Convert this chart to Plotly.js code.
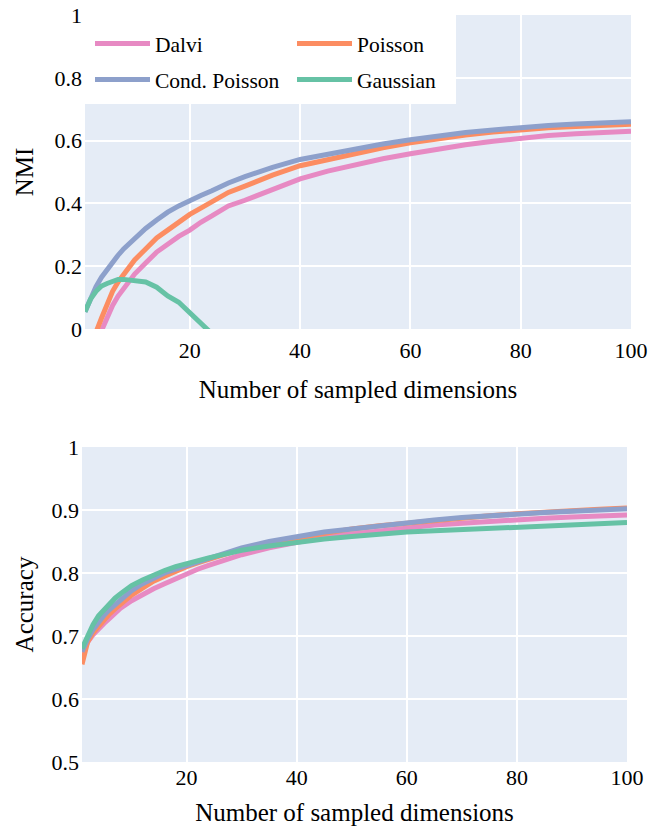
<!DOCTYPE html>
<html>
<head>
<meta charset="utf-8">
<script src="https://cdn.plot.ly/plotly-3.0.1.min.js"></script>
<style>html,body{margin:0;padding:0;background:#fff}#chart{width:661px;height:834px}</style>
</head>
<body>
<div id="chart"></div>
<script>
const dims = [1,2,3,4,5,6,7,8,10,12,14,16,18,20,22,24,27,30,35,40,45,50,55,60,65,70,75,80,85,90,95,100];

const seriesNames = ["Dalvi", "Poisson", "Cond. Poisson", "Gaussian"];
const seriesColors = ["#e78ac3", "#fc8d62", "#8da0cb", "#66c2a5"];
const legendRow = ["legend", "legend", "legend2", "legend2"];

// NMI (top panel)
const nmiDalvi = [-0.15,-0.1,-0.05,-0.005,0.035,0.075,0.105,0.13,0.175,0.21,0.245,0.27,0.295,0.315,0.34,0.36,0.392,0.41,0.445,0.478,0.503,0.523,0.542,0.558,0.573,0.587,0.598,0.608,0.616,0.622,0.627,0.63];
const nmiPoisson = [-0.12,-0.06,-0.01,0.035,0.08,0.12,0.15,0.175,0.22,0.255,0.29,0.315,0.34,0.365,0.385,0.405,0.435,0.455,0.49,0.52,0.54,0.56,0.577,0.593,0.606,0.618,0.627,0.635,0.641,0.645,0.649,0.652];
const nmiCondPoisson = [0.055,0.1,0.135,0.165,0.19,0.215,0.235,0.255,0.29,0.32,0.347,0.372,0.392,0.41,0.425,0.44,0.465,0.485,0.515,0.54,0.557,0.573,0.589,0.603,0.615,0.626,0.634,0.642,0.648,0.653,0.657,0.66];
const nmiGaussian = [0.055,0.095,0.12,0.137,0.145,0.152,0.158,0.158,0.155,0.15,0.133,0.105,0.085,0.05,0.02,-0.015,-0.06,-0.1,null,null,null,null,null,null,null,null,null,null,null,null,null,null];

// Accuracy (bottom panel)
const accDalvi = [0.672,0.69,0.702,0.712,0.72,0.728,0.737,0.744,0.756,0.766,0.775,0.783,0.791,0.799,0.806,0.812,0.821,0.829,0.84,0.849,0.857,0.862,0.867,0.872,0.876,0.879,0.882,0.884,0.887,0.889,0.891,0.892];
const accPoisson = [0.655,0.69,0.705,0.716,0.726,0.735,0.743,0.75,0.765,0.776,0.787,0.795,0.803,0.81,0.816,0.822,0.83,0.838,0.848,0.856,0.864,0.87,0.875,0.879,0.884,0.888,0.891,0.894,0.897,0.899,0.901,0.903];
const accCondPoisson = [0.675,0.695,0.71,0.722,0.733,0.742,0.75,0.757,0.772,0.783,0.792,0.8,0.806,0.812,0.818,0.824,0.832,0.84,0.85,0.858,0.865,0.87,0.875,0.879,0.884,0.888,0.891,0.893,0.896,0.898,0.9,0.902];
const accGaussian = [0.68,0.7,0.718,0.732,0.742,0.752,0.76,0.767,0.78,0.789,0.797,0.804,0.81,0.815,0.82,0.824,0.83,0.836,0.843,0.849,0.854,0.858,0.862,0.865,0.867,0.869,0.871,0.873,0.875,0.877,0.878,0.88];

const xTickVals = [20,40,60,80,100];
const nmiTickVals = [0,0.2,0.4,0.6,0.8,1];
const nmiTickText = ["0","0.2","0.4","0.6","0.8","1"];
const accTickVals = [0.5,0.6,0.7,0.8,0.9,1];
const accTickText = ["0.5","0.6","0.7","0.8","0.9","1"];

const nmiData = [nmiDalvi, nmiPoisson, nmiCondPoisson, nmiGaussian];
const accData = [accDalvi, accPoisson, accCondPoisson, accGaussian];

const traces = [];
seriesNames.forEach((n, i) => {
  traces.push({x: dims, y: nmiData[i], name: n, type: 'scatter', mode: 'lines',
    line: {color: seriesColors[i], width: 5}, xaxis: 'x', yaxis: 'y', legendgroup: n, legend: legendRow[i]});
});
seriesNames.forEach((n, i) => {
  traces.push({x: dims, y: accData[i], name: n, type: 'scatter', mode: 'lines',
    line: {color: seriesColors[i], width: 5}, xaxis: 'x2', yaxis: 'y2', legendgroup: n, showlegend: false});
});

const W = 661, H = 834;
const fam = 'Liberation Serif, Times New Roman, serif';
const font = {family: fam, color: '#000'};
const axBase = {showline: false, zeroline: false, gridcolor: '#fff', gridwidth: 2, ticks: '', automargin: false,
  tickfont: {family: fam, color: '#000', size: 22}};
const legBase = {xanchor: 'left', yanchor: 'top', orientation: 'h', bgcolor: 'rgba(0,0,0,0)', borderwidth: 0,
  itemwidth: 55, entrywidthmode: 'pixels', entrywidth: 132, font: {family: fam, color: '#000', size: 21.5}, traceorder: 'normal'};

const layout = {
  width: W, height: H,
  margin: {l: 0, r: 0, t: 0, b: 0},
  paper_bgcolor: '#fff', plot_bgcolor: '#E5ECF6',
  font: font,
  showlegend: true,
  legend: Object.assign({}, legBase, {x: 90/W, y: 1 - 23/H}),
  legend2: Object.assign({}, legBase, {x: 90/W, y: 1 - 59/H}),
  shapes: [{type: 'rect', xref: 'paper', yref: 'paper', x0: 85/W, x1: 456/W, y0: 1 - 104/H, y1: 1 - 15/H,
    fillcolor: '#fff', line: {width: 0}, layer: 'above'}],
  xaxis: Object.assign({}, axBase, {domain: [85/W, 631/W], range: [1, 100], tickvals: xTickVals, ticklabelstandoff: 6,
    anchor: 'y', title: {text: 'Number of sampled dimensions', font: {family: fam, color: '#000', size: 25}, standoff: 18}}),
  yaxis: Object.assign({}, axBase, {domain: [1 - 329/H, 1 - 15/H], range: [0, 1], tickvals: nmiTickVals, ticktext: nmiTickText, ticklabelstandoff: 2,
    anchor: 'x', title: {text: 'NMI', font: {family: fam, color: '#000', size: 25}, standoff: 13}}),
  xaxis2: Object.assign({}, axBase, {domain: [82/W, 627/W], range: [1, 100], tickvals: xTickVals,
    anchor: 'y2', title: {text: 'Number of sampled dimensions', font: {family: fam, color: '#000', size: 25}, standoff: 14}}),
  yaxis2: Object.assign({}, axBase, {domain: [1 - 762/H, 1 - 447/H], range: [0.5, 1], tickvals: accTickVals, ticktext: accTickText, ticklabelstandoff: 2,
    anchor: 'x2', title: {text: 'Accuracy', font: {family: fam, color: '#000', size: 25}, standoff: 10}})
};

Plotly.newPlot('chart', traces, layout, {displayModeBar: false, staticPlot: true});
</script>
</body>
</html>
